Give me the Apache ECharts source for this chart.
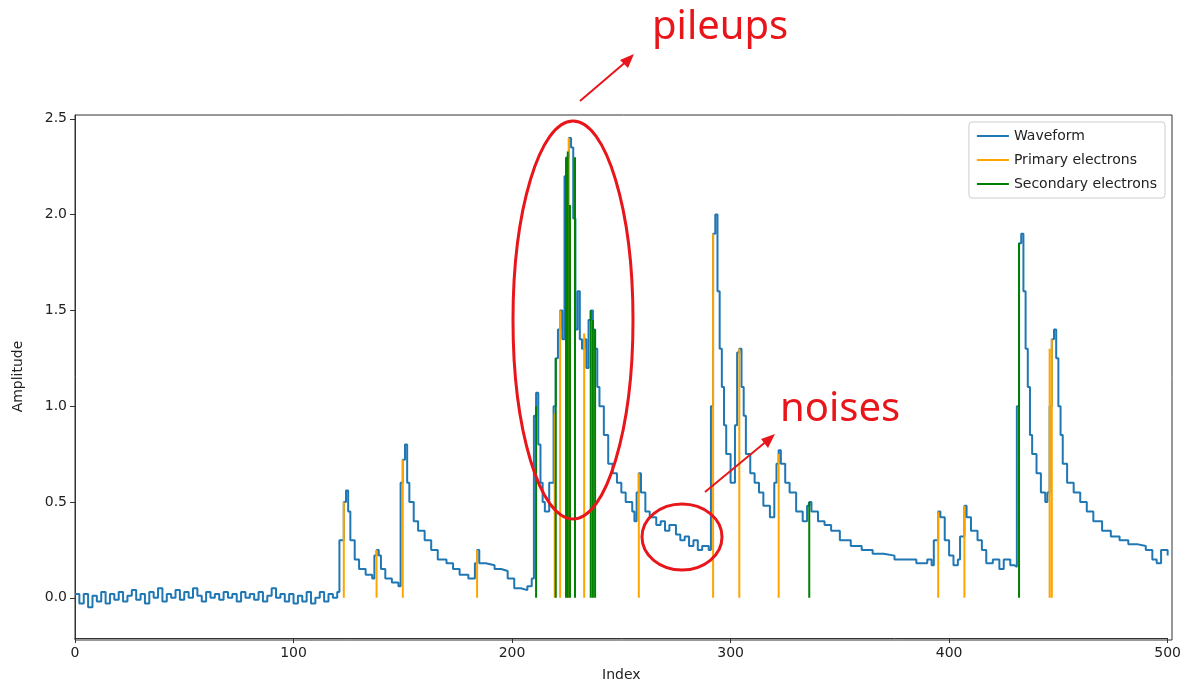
<!DOCTYPE html>
<html>
<head>
<meta charset="utf-8">
<script src="https://cdn.jsdelivr.net/npm/echarts@6/dist/echarts.min.js"></script>
<style>html,body{margin:0;padding:0;background:#fff}#chart{width:1184px;height:687px}</style>
</head>
<body>
<div id="chart"></div>
<script>
// Waveform waypoints [index, amplitude], drawn as step line
var baseline = [
    [0,0.02],[2,-0.03],[4,0.02],[6,-0.05],[8,0.01],[10,-0.02],[12,0.03],[14,-0.03],[16,0.02],[18,-0.01],
    [20,0.03],[22,-0.02],[24,0.01],[26,0.04],[28,-0.01],[30,0.02],[32,-0.03],[34,0.03],[36,0.0],[38,0.05],
    [40,-0.02],[42,0.02],[44,0.0],[46,0.04],[48,-0.01],[50,0.03],[52,0.0],[54,0.05],[56,0.01],[58,-0.02],
    [60,0.03],[62,0.0],[64,0.02],[66,-0.01],[68,0.03],[70,0.0],[72,0.02],[74,-0.02],[76,0.03],[78,0.0],
    [80,0.02],[82,-0.01],[84,0.03],[86,-0.02],[88,0.01],[90,0.05],[92,0.0],[94,0.02],[96,-0.02],[98,0.02],
    [100,-0.03],[102,0.01],[104,-0.02],[106,0.03],[108,-0.03],[110,0.0],[112,0.03],[114,-0.02],[116,0.02],[118,0.0],[120,0.03]
];
var waveform = [
    [121,0.3],[123,0.5],[124,0.56],[125,0.45],[126,0.3],[128,0.2],[130,0.15],[133,0.12],[136,0.1],[137,0.22],[138,0.25],[139,0.22],
    [140,0.15],[142,0.1],[145,0.08],[148,0.06],[149,0.6],[150,0.72],[151,0.8],[152,0.6],[153,0.5],[155,0.4],[157,0.35],
    [160,0.3],[163,0.25],[166,0.2],[170,0.18],[173,0.15],[176,0.12],[180,0.1],[183,0.18],[184,0.25],[185,0.18],[188,0.17],
    [192,0.15],[195,0.14],[198,0.1],[201,0.05],[204,0.04],[207,0.06],[209,0.1],[210,0.95],[211,1.07],[212,0.8],[213,0.6],
    [214,0.5],[215,0.45],[217,0.6],[219,1.0],[220,1.25],[221,1.4],[222,1.5],[223,1.35],[224,2.2],[225,2.3],[226,2.4],
    [227,2.35],[228,1.98],[229,1.4],[230,1.6],[231,1.35],[232,1.3],[233,1.35],[234,1.2],[235,1.45],[236,1.5],[237,1.4],
    [238,1.3],[239,1.1],[240,1.0],[242,0.85],[244,0.7],[246,0.65],[248,0.6],[250,0.55],[252,0.5],[255,0.45],[256,0.4],
    [257,0.55],[258,0.65],[259,0.55],[261,0.45],[263,0.42],[266,0.38],[268,0.4],[270,0.35],[272,0.38],[275,0.33],[277,0.3],
    [279,0.32],[281,0.27],[283,0.3],[285,0.25],[287,0.27],[290,0.25],[291,1.0],[292,1.9],[293,2.0],[294,1.6],[295,1.3],
    [296,1.1],[297,0.9],[298,0.75],[300,0.6],[302,0.9],[303,1.28],[304,1.3],[305,1.1],[306,0.95],[307,0.75],[309,0.65],
    [311,0.6],[313,0.55],[315,0.48],[318,0.42],[320,0.6],[321,0.7],[322,0.77],[323,0.7],[325,0.6],[327,0.55],[330,0.45],
    [333,0.4],[335,0.48],[336,0.5],[337,0.45],[340,0.4],[343,0.38],[346,0.35],[350,0.3],[355,0.27],[360,0.25],[365,0.23],
    [370,0.22],[375,0.2],[380,0.2],[385,0.18],[390,0.2],[392,0.17],[393,0.3],[395,0.45],[396,0.42],[398,0.3],[400,0.22],
    [402,0.17],[404,0.2],[405,0.32],[407,0.48],[408,0.42],[410,0.35],[413,0.3],[415,0.25],[417,0.18],[420,0.2],[423,0.15],
    [425,0.2],[428,0.17],[430,0.16],[431,1.0],[432,1.85],[433,1.9],[434,1.6],[435,1.3],[436,1.1],[437,0.85],[438,0.75],
    [440,0.65],[442,0.55],[444,0.5],[445,0.55],[446,1.0],[447,1.35],[448,1.4],[449,1.25],[450,1.0],[451,0.85],[452,0.7],
    [454,0.6],[457,0.55],[460,0.5],[463,0.45],[466,0.4],[470,0.35],[474,0.32],[478,0.3],[482,0.28],[486,0.27],[490,0.25],
    [493,0.2],[495,0.18],[497,0.25],[500,0.22]
];

// Electron arrival [index, height]
var primary = [[123,0.5],[138,0.25],[150,0.72],[184,0.25],[219.5,0.96],[222,1.5],[226,2.4],[233,1.38],
    [258,0.65],[292,1.9],[304,1.3],[322,0.75],[395,0.45],[407,0.48],[446,1.3],[447,1.35]];
var secondary = [[211,1.0],[220,1.25],[224.7,2.3],[225.5,2.33],[226.5,2.05],[228.8,2.3],[236,1.5],[237,1.45],[238,1.4],
    [336,0.5],[432,1.85]];

var yTicks = [0, 0.5, 1.0, 1.5, 2.0, 2.5];

function spikes(list) {
    var out = [];
    list.forEach(function(p) {
        out.push([p[0], 0], [p[0], p[1]], '-');
    });
    return out;
}

var chart = echarts.init(document.getElementById('chart'));
chart.setOption({
    animation: false,
    textStyle: {fontFamily: 'DejaVu Sans'},
    grid: {left: 75, right: 12, top: 115, bottom: 47},
    legend: {
        right: 19, top: 122, orient: 'vertical', itemGap: 10,
        itemWidth: 32, itemHeight: 2, icon: 'rect',
        borderColor: '#ccc', borderWidth: 1, borderRadius: 3, padding: [7, 8],
        textStyle: {fontSize: 14, color: '#222'},
        data: ['Waveform', 'Primary electrons', 'Secondary electrons']
    },
    xAxis: {
        type: 'value', min: 0, max: 500, interval: 100,
        name: 'Index', nameLocation: 'middle', nameGap: 30, nameTextStyle: {fontSize: 14, color: '#222'},
        axisLine: {onZero: false, lineStyle: {color: '#333'}},
        axisTick: {show: true, lineStyle: {color: '#333'}},
        axisLabel: {fontSize: 14, color: '#222'},
        splitLine: {show: false}
    },
    yAxis: {
        type: 'value', min: -0.21, max: 2.52,
        name: 'Amplitude', nameLocation: 'middle', nameGap: 50, nameTextStyle: {fontSize: 14, color: '#222'},
        axisLine: {show: true, lineStyle: {color: '#333'}},
        axisTick: {show: true, customValues: yTicks, lineStyle: {color: '#333'}},
        axisLabel: {fontSize: 14, color: '#222', customValues: yTicks,
            formatter: function(v) { return v.toFixed(1); }},
        splitLine: {show: false}
    },
    graphic: [
        {type: 'rect', shape: {x: 75, y: 115, width: 1097, height: 525}, style: {fill: 'none', stroke: '#333', lineWidth: 1}, silent: true},
        {type: 'ellipse', shape: {cx: 573, cy: 320, rx: 60, ry: 199}, style: {fill: 'none', stroke: '#e8161b', lineWidth: 3}, z: 100},
        {type: 'ellipse', shape: {cx: 682, cy: 537, rx: 40, ry: 33}, style: {fill: 'none', stroke: '#e8161b', lineWidth: 3}, z: 100},
        {type: 'line', shape: {x1: 580, y1: 101, x2: 628, y2: 60}, style: {stroke: '#e8161b', lineWidth: 2}, z: 100},
        {type: 'polygon', shape: {points: [[634, 54], [620, 60], [628, 68]]}, style: {fill: '#e8161b'}, z: 100},
        {type: 'line', shape: {x1: 705, y1: 492, x2: 768, y2: 440}, style: {stroke: '#e8161b', lineWidth: 2}, z: 100},
        {type: 'polygon', shape: {points: [[775, 434], [761, 439], [768, 448]]}, style: {fill: '#e8161b'}, z: 100},
        {type: 'text', left: 652, top: 8, style: {text: 'pileups', fill: '#e8161b', fontSize: 40, fontFamily: 'Noto Sans'}, z: 100},
        {type: 'text', left: 780, top: 390, style: {text: 'noises', fill: '#e8161b', fontSize: 40, fontFamily: 'Noto Sans'}, z: 100}
    ],
    series: [
        {
            name: 'Waveform', type: 'line', step: 'end', showSymbol: false,
            data: baseline.concat(waveform),
            lineStyle: {color: '#1f77b4', width: 2}, itemStyle: {color: '#1f77b4'}, z: 3
        },
        {
            name: 'Primary electrons', type: 'line', showSymbol: false, connectNulls: false,
            data: spikes(primary),
            lineStyle: {color: '#ffa500', width: 2}, itemStyle: {color: '#ffa500'}, z: 4
        },
        {
            name: 'Secondary electrons', type: 'line', showSymbol: false, connectNulls: false,
            data: spikes(secondary),
            lineStyle: {color: '#008000', width: 2}, itemStyle: {color: '#008000'}, z: 5
        }
    ]
});
</script>
</body>
</html>
